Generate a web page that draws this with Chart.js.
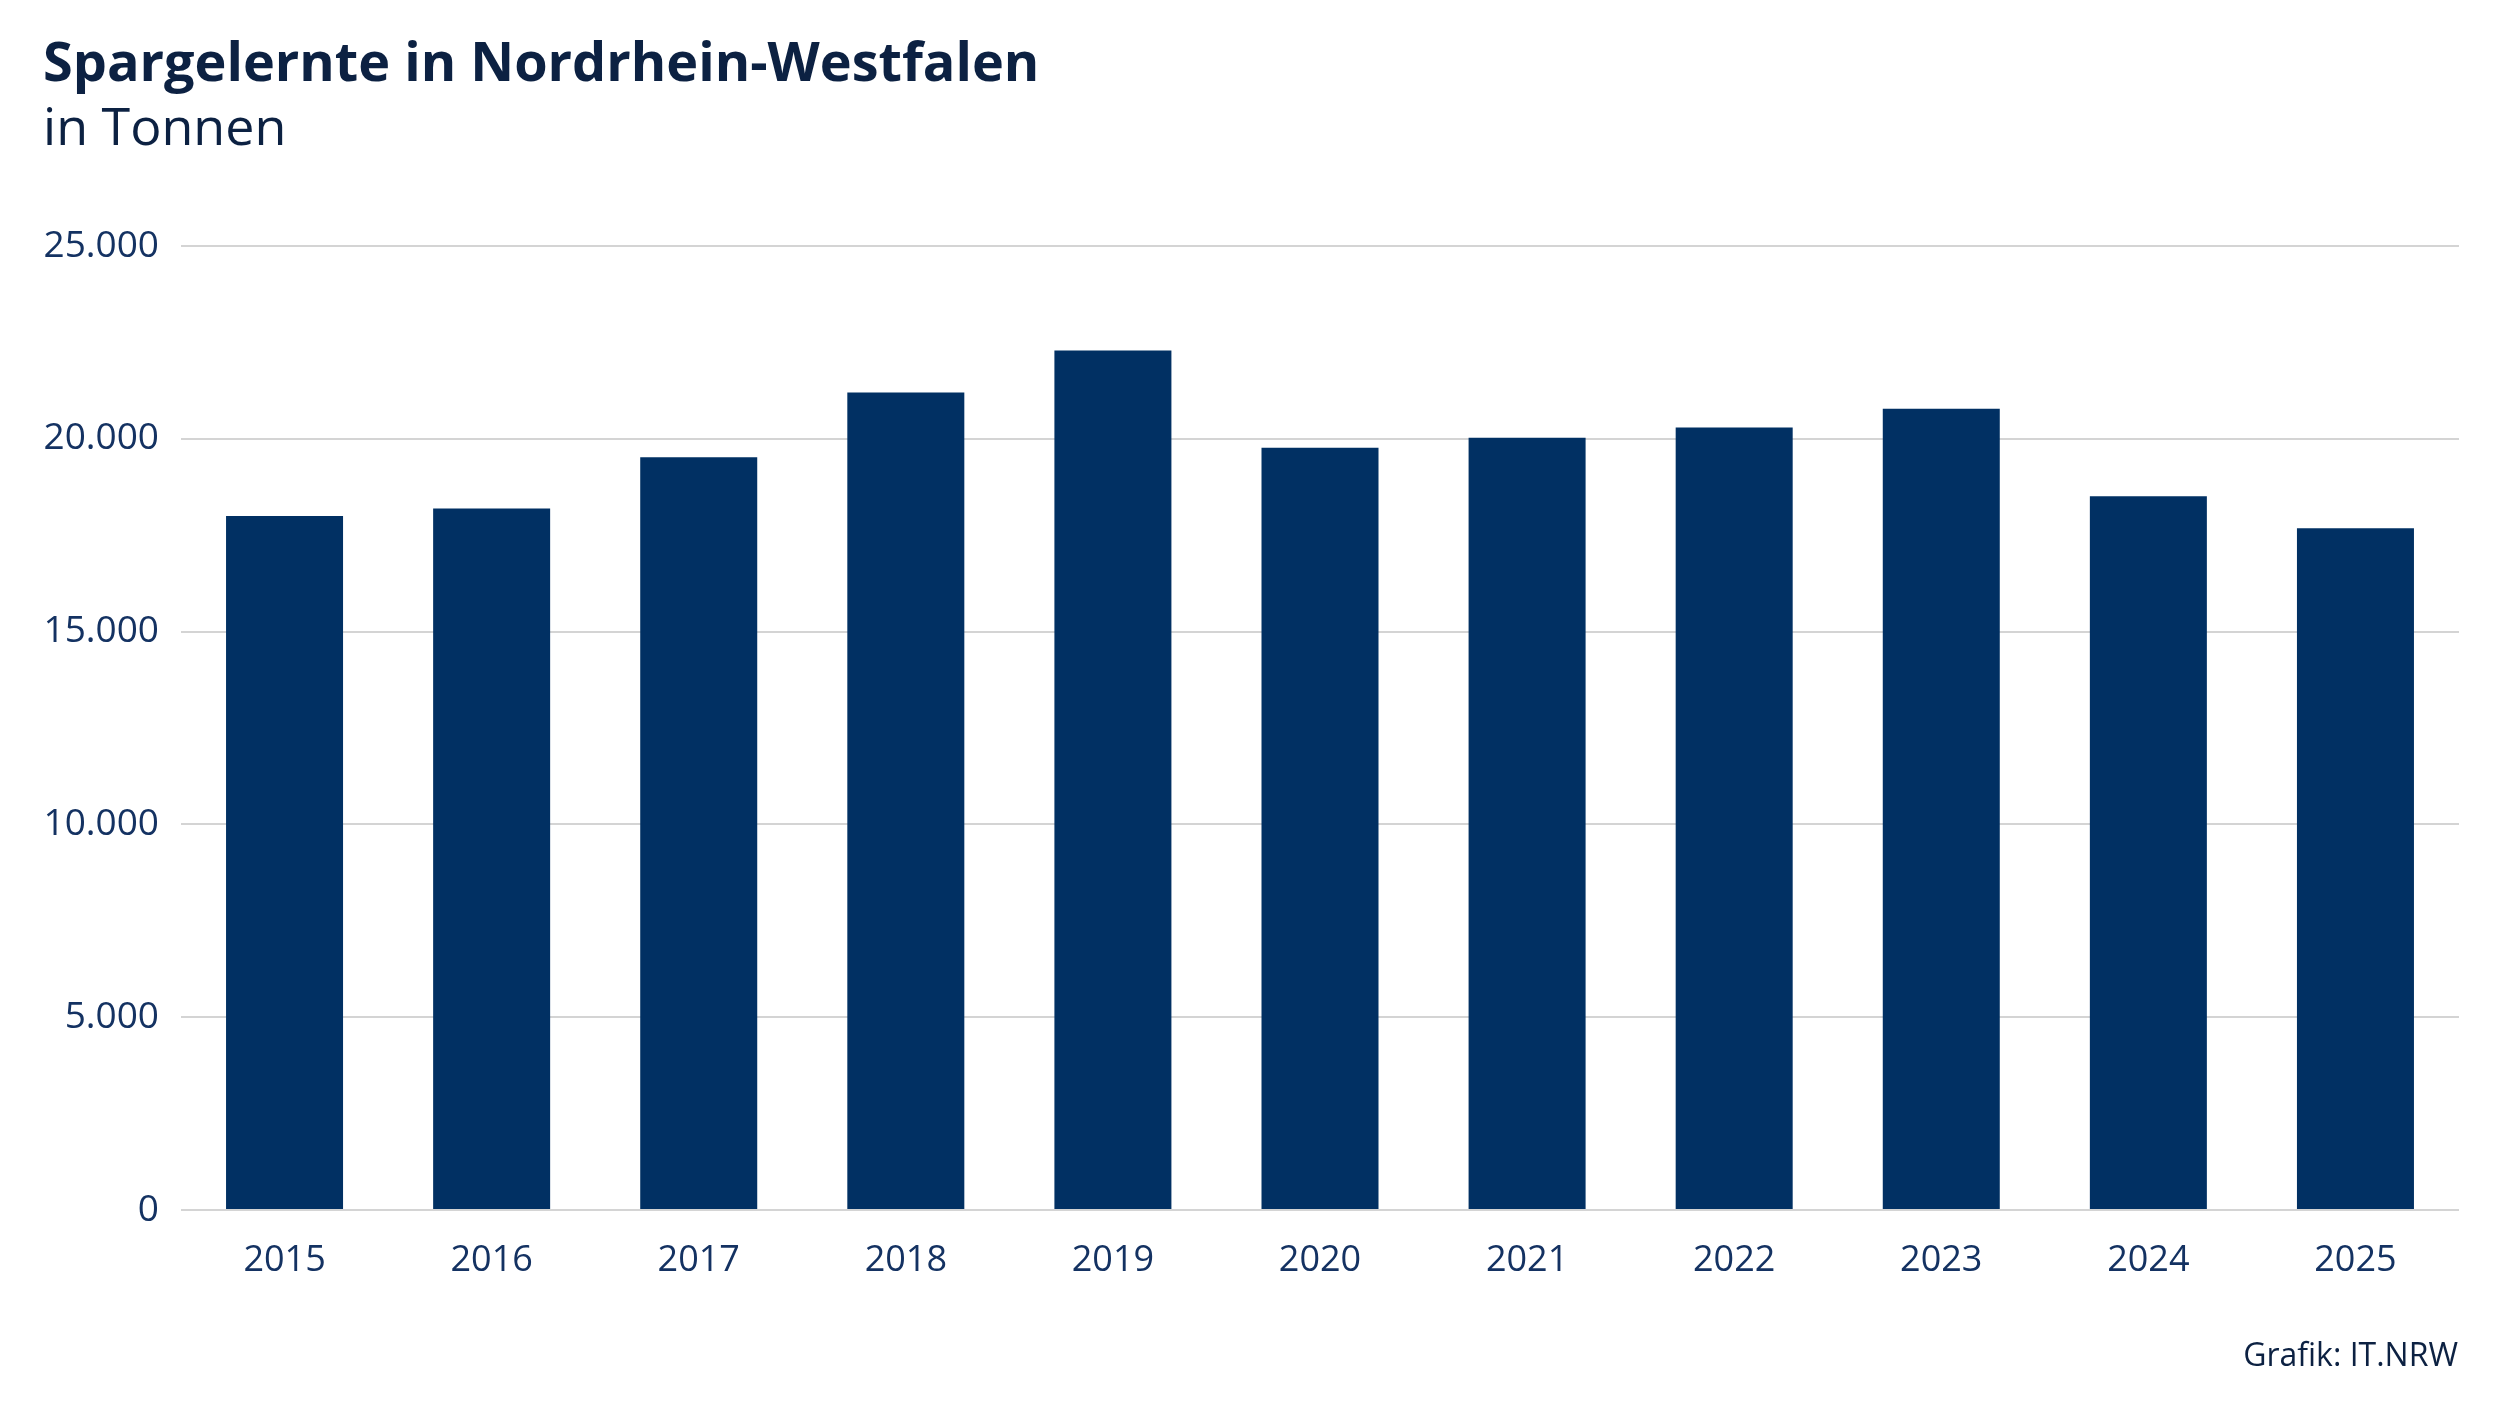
<!DOCTYPE html>
<html lang="de">
<head>
<meta charset="utf-8">
<title>Spargelernte in Nordrhein-Westfalen</title>
<script src="https://cdn.jsdelivr.net/npm/chart.js@4.4.1/dist/chart.umd.min.js"></script>
<style>
  html, body { margin: 0; padding: 0; background: #fff; }
  #wrap { position: relative; width: 2500px; height: 1406px; overflow: hidden; }
  #chart { position: absolute; left: 0; top: 0; }
  .txt { position: absolute; font-family: "Open Sans", "Noto Sans", sans-serif; color: #0c2142; line-height: 1; white-space: nowrap; }
  #title { left: 43px; top: 33px; font-size: 54px; font-weight: 700; }
  #subtitle { left: 43px; top: 99px; font-size: 52px; font-weight: 400; }
  #source { right: 42px; top: 1338px; font-size: 32px; }
</style>
</head>
<body>
<div id="wrap">
  <canvas id="chart" width="2500" height="1406"></canvas>
  <div class="txt" id="title">Spargelernte in Nordrhein-Westfalen</div>
  <div class="txt" id="subtitle">in Tonnen</div>
  <div class="txt" id="source">Grafik: IT.NRW</div>
</div>
<script>
// Erntemengen in Tonnen
const years = ["2015", "2016", "2017", "2018", "2019", "2020", "2021", "2022", "2023", "2024", "2025"];
const harvest = [18000, 18190, 19520, 21200, 22290, 19770, 20030, 20290, 20780, 18510, 17680];
const yTicks = [0, 5000, 10000, 15000, 20000, 25000];

const BAR_COLOR = "#013063";
const TEXT_COLOR = "#143262";
const GRID_COLOR = "#d4d4d4";

// 25000 -> "25.000"
function formatDE(v) {
  return String(v).replace(/\B(?=(\d{3})+(?!\d))/g, ".");
}

new Chart(document.getElementById("chart"), {
  type: "bar",
  data: {
    labels: years,
    datasets: [
      {
        label: "Spargelernte (t)",
        data: harvest,
        backgroundColor: BAR_COLOR,
        borderWidth: 0,
        categoryPercentage: 1,
        barPercentage: 0.565,
      },
    ],
  },
  options: {
    responsive: false,
    animation: false,
    devicePixelRatio: 1,
    layout: {
      padding: { top: 246, left: 40, right: 41, bottom: 105 },
    },
    scales: {
      x: {
        grid: { display: false },
        border: { display: false },
        ticks: {
          color: TEXT_COLOR,
          padding: 21,
          font: { family: "'Open Sans', 'Noto Sans', sans-serif", size: 36 },
        },
        afterFit: (scale) => {
          scale.height = 91;
        },
      },
      y: {
        min: 0,
        max: 25000,
        afterBuildTicks: (scale) => {
          scale.ticks = yTicks.map((v) => ({ value: v }));
        },
        grid: {
          color: GRID_COLOR,
          lineWidth: 2,
          drawTicks: false,
        },
        border: { display: false },
        ticks: {
          color: TEXT_COLOR,
          padding: 22,
          font: { family: "'Open Sans', 'Noto Sans', sans-serif", size: 37 },
          callback: (value) => formatDE(value),
        },
        afterFit: (scale) => {
          scale.width = 141;
        },
      },
    },
    plugins: {
      legend: { display: false },
      tooltip: { enabled: false },
    },
  },
});
</script>
</body>
</html>
